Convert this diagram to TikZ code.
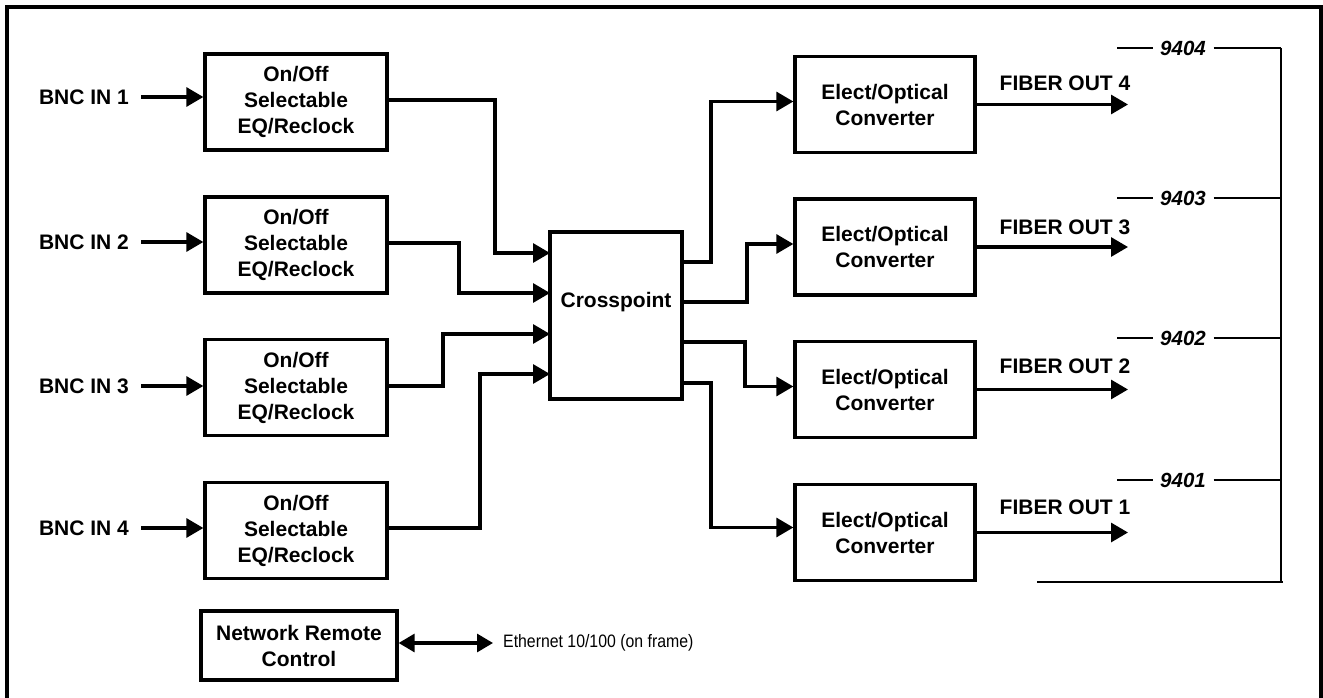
\documentclass[tikz,border=0pt]{standalone}
\usepackage{fontspec}
\setmainfont{Liberation Sans}
\newfontfamily\narrowfont[FakeStretch=0.88]{Liberation Sans}
\usetikzlibrary{arrows.meta}
\tikzset{
  every node/.style={font=\fontsize{21}{26}\selectfont\bfseries, inner sep=0pt},
  blk/.style={draw, line width=3.3pt, align=center},
  eqbox/.style={blk, minimum width=182pt, minimum height=96pt},
  eobox/.style={blk, minimum width=180pt, minimum height=96pt},
  xbox/.style={blk, minimum width=132pt, minimum height=167pt},
  netbox/.style={blk, minimum width=196pt, minimum height=69pt},
  arr/.style={line width=3.1pt, -{Triangle[length=17pt,width=19pt]}},
  darr/.style={line width=3.1pt, {Triangle[length=16pt,width=18pt]}-{Triangle[length=16pt,width=18pt]}},
  thinline/.style={line width=2.1pt},
  lbl/.style={font=\fontsize{21}{26}\selectfont\bfseries},
  num/.style={font=\fontsize{20.5}{24}\selectfont\bfseries\itshape, inner xsep=7.5pt},
  eth/.style={font=\fontsize{18}{22}\selectfont\narrowfont, anchor=west}
}
\begin{document}
\begin{tikzpicture}[x=1pt,y=-1pt]
\useasboundingbox (0,0) rectangle (1323,698);
% frame
\draw[line width=4pt] (7,702) -- (7,7) -- (1321,7) -- (1321,702);

% EQ boxes
\node[eqbox] (eq1) at (296,102) {On/Off\\Selectable\\EQ/Reclock};
\node[eqbox] (eq2) at (296,245) {On/Off\\Selectable\\EQ/Reclock};
\node[eqbox] (eq3) at (296,387.5) {On/Off\\Selectable\\EQ/Reclock};
\node[eqbox] (eq4) at (296,530.5) {On/Off\\Selectable\\EQ/Reclock};

% BNC inputs
\node[lbl] (bnc1) at (84,97) {BNC IN 1};
\node[lbl] (bnc2) at (84,242) {BNC IN 2};
\node[lbl] (bnc3) at (84,386) {BNC IN 3};
\node[lbl] (bnc4) at (84,528) {BNC IN 4};
\draw[arr] ([xshift=12pt]bnc1.east) -- (bnc1.east -| eq1.west);
\draw[arr] ([xshift=12pt]bnc2.east) -- (bnc2.east -| eq2.west);
\draw[arr] ([xshift=12pt]bnc3.east) -- (bnc3.east -| eq3.west);
\draw[arr] ([xshift=12pt]bnc4.east) -- (bnc4.east -| eq4.west);

% Crosspoint
\node[xbox] (xp) at (616,315.5) {};
\node[lbl] (xptext) at (616,302) {Crosspoint};
\coordinate (xi1) at (550,253);
\coordinate (xi2) at (550,293);
\coordinate (xi3) at (550,334);
\coordinate (xi4) at (550,374);
\coordinate (xo1) at (682,262);
\coordinate (xo2) at (682,302);
\coordinate (xo3) at (682,342);
\coordinate (xo4) at (682,383);

\draw[arr] ([yshift=2pt]eq1.east) -- (495,100) |- (xi1);
\draw[arr] ([yshift=2pt]eq2.east) -- (459,243) |- (xi2);
\draw[arr] ([yshift=1.5pt]eq3.east) -- (443,386) |- (xi3);
\draw[arr] ([yshift=2.5pt]eq4.east) -- (480,528) |- (xi4);

% E/O converters
\node[eobox] (eo1) at (885,104.5) {Elect/Optical\\Converter};
\node[eobox] (eo2) at (885,247) {Elect/Optical\\Converter};
\node[eobox] (eo3) at (885,389.5) {Elect/Optical\\Converter};
\node[eobox] (eo4) at (885,532.5) {Elect/Optical\\Converter};

\draw[arr] (xo1) -- (711,262) |- ([yshift=3pt]eo1.west);
\draw[arr] (xo2) -- (747,302) |- ([yshift=3pt]eo2.west);
\draw[arr] (xo3) -- (745,342) |- ([yshift=3pt]eo3.west);
\draw[arr] (xo4) -- (711,383) |- ([yshift=5pt]eo4.west);

% Fiber outputs
\node[lbl] (fo4) at (1065,83) {FIBER OUT 4};
\node[lbl] (fo3) at (1065,227) {FIBER OUT 3};
\node[lbl] (fo2) at (1065,366) {FIBER OUT 2};
\node[lbl] (fo1) at (1065,507) {FIBER OUT 1};
\draw[arr] (eo1.east) -- (eo1.east -| 1128,0);
\draw[arr] (eo2.east) -- (eo2.east -| 1128,0);
\draw[arr] (eo3.east) -- (eo3.east -| 1128,0);
\draw[arr] (eo4.east) -- (eo4.east -| 1128,0);

% model numbers bracket
\node[num] (m4) at (1183,48) {9404};
\node[num] (m3) at (1183,198) {9403};
\node[num] (m2) at (1183,338) {9402};
\node[num] (m1) at (1183,480) {9401};
\coordinate (bt) at (1281,48);
\coordinate (bb) at (1281,582);
\draw[thinline] (1117,48) -- (m4.west) (m4.east) -- (bt);
\draw[thinline] (1117,198) -- (m3.west) (m3.east) -- (1281,198);
\draw[thinline] (1117,338) -- (m2.west) (m2.east) -- (1281,338);
\draw[thinline] (1117,480) -- (m1.west) (m1.east) -- (1281,480);
\draw[thinline] (bt) -- (bb);
\draw[thinline] (1037,582) -- ([xshift=2pt]bb);

% Network remote control
\node[netbox] (net) at (299,645.5) {Network Remote\\Control};
\coordinate (ethend) at (493,643);
\draw[darr] (net.east |- ethend) -- (ethend);
\node[eth] (eth) at (503,643) {Ethernet 10/100 (on frame)};
\end{tikzpicture}
\end{document}
